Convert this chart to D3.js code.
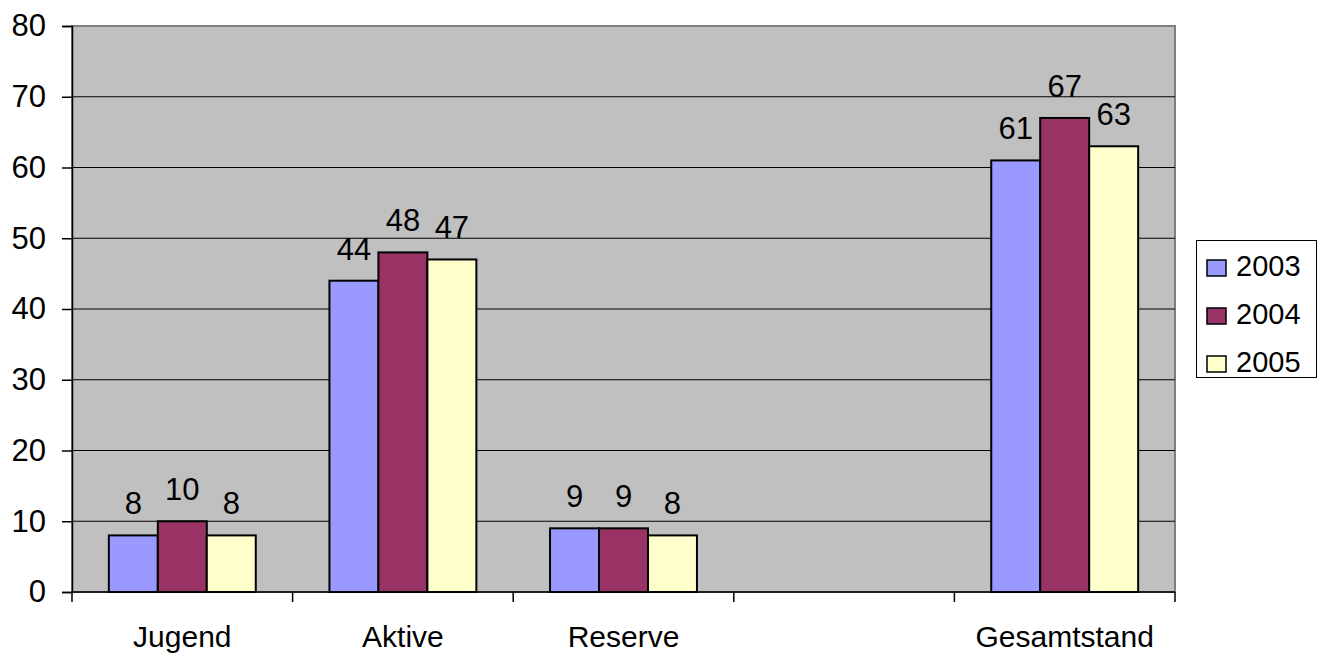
<!DOCTYPE html>
<html>
<head>
<meta charset="utf-8">
<script src="https://cdn.jsdelivr.net/npm/d3@7"></script>
<style>
  body { margin: 0; background: #fff; }
  text { font-family: "Liberation Sans", Arial, sans-serif; fill: #000; }
</style>
</head>
<body>
<div id="chart"></div>
<script>
// data
let categories = ["Jugend", "Aktive", "Reserve", "", "Gesamtstand"];
let years = ["2003", "2004", "2005"];
let values2003 = [8, 44, 9, null, 61];
let values2004 = [10, 48, 9, null, 67];
let values2005 = [8, 47, 8, null, 63];
let yTicks = [0, 10, 20, 30, 40, 50, 60, 70, 80];

let seriesValues = [values2003, values2004, values2005];
let colors = ["#9999FF", "#993366", "#FFFFCC"];

let svgWidth = 1318;
let svgHeight = 657;

let plot = { left: 72, right: 1175, top: 26, bottom: 592 };

let svg = d3.select("#chart")
    .append("svg")
    .attr("width", svgWidth)
    .attr("height", svgHeight);

// scales
let xScale = d3.scaleBand()
    .domain(categories)
    .range([plot.left, plot.right]);

let bw = xScale.bandwidth();
let xSub = d3.scaleBand()
    .domain(years)
    .range([bw * 0.167, bw * 0.833]);

let yScale = d3.scaleLinear()
    .domain([0, 80])
    .range([plot.bottom, plot.top]);

// plot background
svg.append("rect")
    .attr("x", plot.left)
    .attr("y", plot.top)
    .attr("width", plot.right - plot.left)
    .attr("height", plot.bottom - plot.top)
    .attr("fill", "#C0C0C0")
    .attr("stroke", "#808080")
    .attr("stroke-width", 2);

// gridlines
svg.append("g")
    .selectAll("line")
    .data(yTicks.filter(d => d > 0 && d < 80))
    .enter()
    .append("line")
    .attr("x1", plot.left)
    .attr("x2", plot.right)
    .attr("y1", d => yScale(d))
    .attr("y2", d => yScale(d))
    .attr("stroke", "#000")
    .attr("stroke-width", 1);

// y axis
let leftAxis = d3.axisLeft(yScale)
    .tickValues(yTicks)
    .tickSize(10)
    .tickPadding(16);

let yAxisG = svg.append("g")
    .attr("transform", `translate(${plot.left}, 0)`)
    .call(leftAxis);
yAxisG.select(".domain").attr("stroke", "#000").attr("stroke-width", 1.5);
yAxisG.selectAll(".tick line").attr("stroke", "#000").attr("stroke-width", 1.5);
yAxisG.selectAll(".tick text")
    .attr("font-size", "31px")
    .attr("font-family", "Liberation Sans, Arial, sans-serif")
    .attr("fill", "#000");

// x axis line and boundary ticks
svg.append("line")
    .attr("x1", plot.left)
    .attr("x2", plot.right)
    .attr("y1", plot.bottom)
    .attr("y2", plot.bottom)
    .attr("stroke", "#000")
    .attr("stroke-width", 1.5);

let boundaries = categories.map(c => xScale(c)).concat([xScale(categories[categories.length - 1]) + bw]);
svg.append("g")
    .selectAll("line")
    .data(boundaries)
    .enter()
    .append("line")
    .attr("x1", d => d)
    .attr("x2", d => d)
    .attr("y1", plot.bottom)
    .attr("y2", plot.bottom + 10)
    .attr("stroke", "#000")
    .attr("stroke-width", 1.5);

// category labels
svg.append("g")
    .selectAll("text")
    .data(categories)
    .enter()
    .append("text")
    .attr("x", d => xScale(d) + bw / 2)
    .attr("y", 647)
    .attr("text-anchor", "middle")
    .attr("font-size", "30px")
    .text(d => d);

// bars
let barData = [];
categories.forEach(function (c, i) {
    years.forEach(function (y, j) {
        let v = seriesValues[j][i];
        if (v !== null) barData.push({ cat: c, year: y, value: v, color: colors[j] });
    });
});

svg.append("g")
    .selectAll("rect")
    .data(barData)
    .enter()
    .append("rect")
    .attr("x", d => xScale(d.cat) + xSub(d.year))
    .attr("y", d => yScale(d.value))
    .attr("width", xSub.bandwidth())
    .attr("height", d => yScale(0) - yScale(d.value))
    .attr("fill", d => d.color)
    .attr("stroke", "#000")
    .attr("stroke-width", 2);

// value labels
svg.append("g")
    .selectAll("text")
    .data(barData)
    .enter()
    .append("text")
    .attr("x", d => xScale(d.cat) + xSub(d.year) + xSub.bandwidth() / 2)
    .attr("y", d => yScale(d.value) - 21)
    .attr("text-anchor", "middle")
    .attr("font-size", "31px")
    .text(d => d.value);

// legend
let legend = svg.append("g");
legend.append("rect")
    .attr("x", 1196.5)
    .attr("y", 240.5)
    .attr("width", 120)
    .attr("height", 137)
    .attr("fill", "#fff")
    .attr("stroke", "#000")
    .attr("stroke-width", 1);

let legendItems = legend.selectAll("g.item")
    .data(years)
    .enter()
    .append("g")
    .attr("class", "item")
    .attr("transform", (d, i) => `translate(1207, ${260 + i * 48})`);

legendItems.append("rect")
    .attr("width", 19)
    .attr("height", 16)
    .attr("fill", (d, i) => colors[i])
    .attr("stroke", "#000")
    .attr("stroke-width", 1.5);

legendItems.append("text")
    .attr("x", 29)
    .attr("y", 16)
    .attr("font-size", "29px")
    .text(d => d);
</script>
</body>
</html>
